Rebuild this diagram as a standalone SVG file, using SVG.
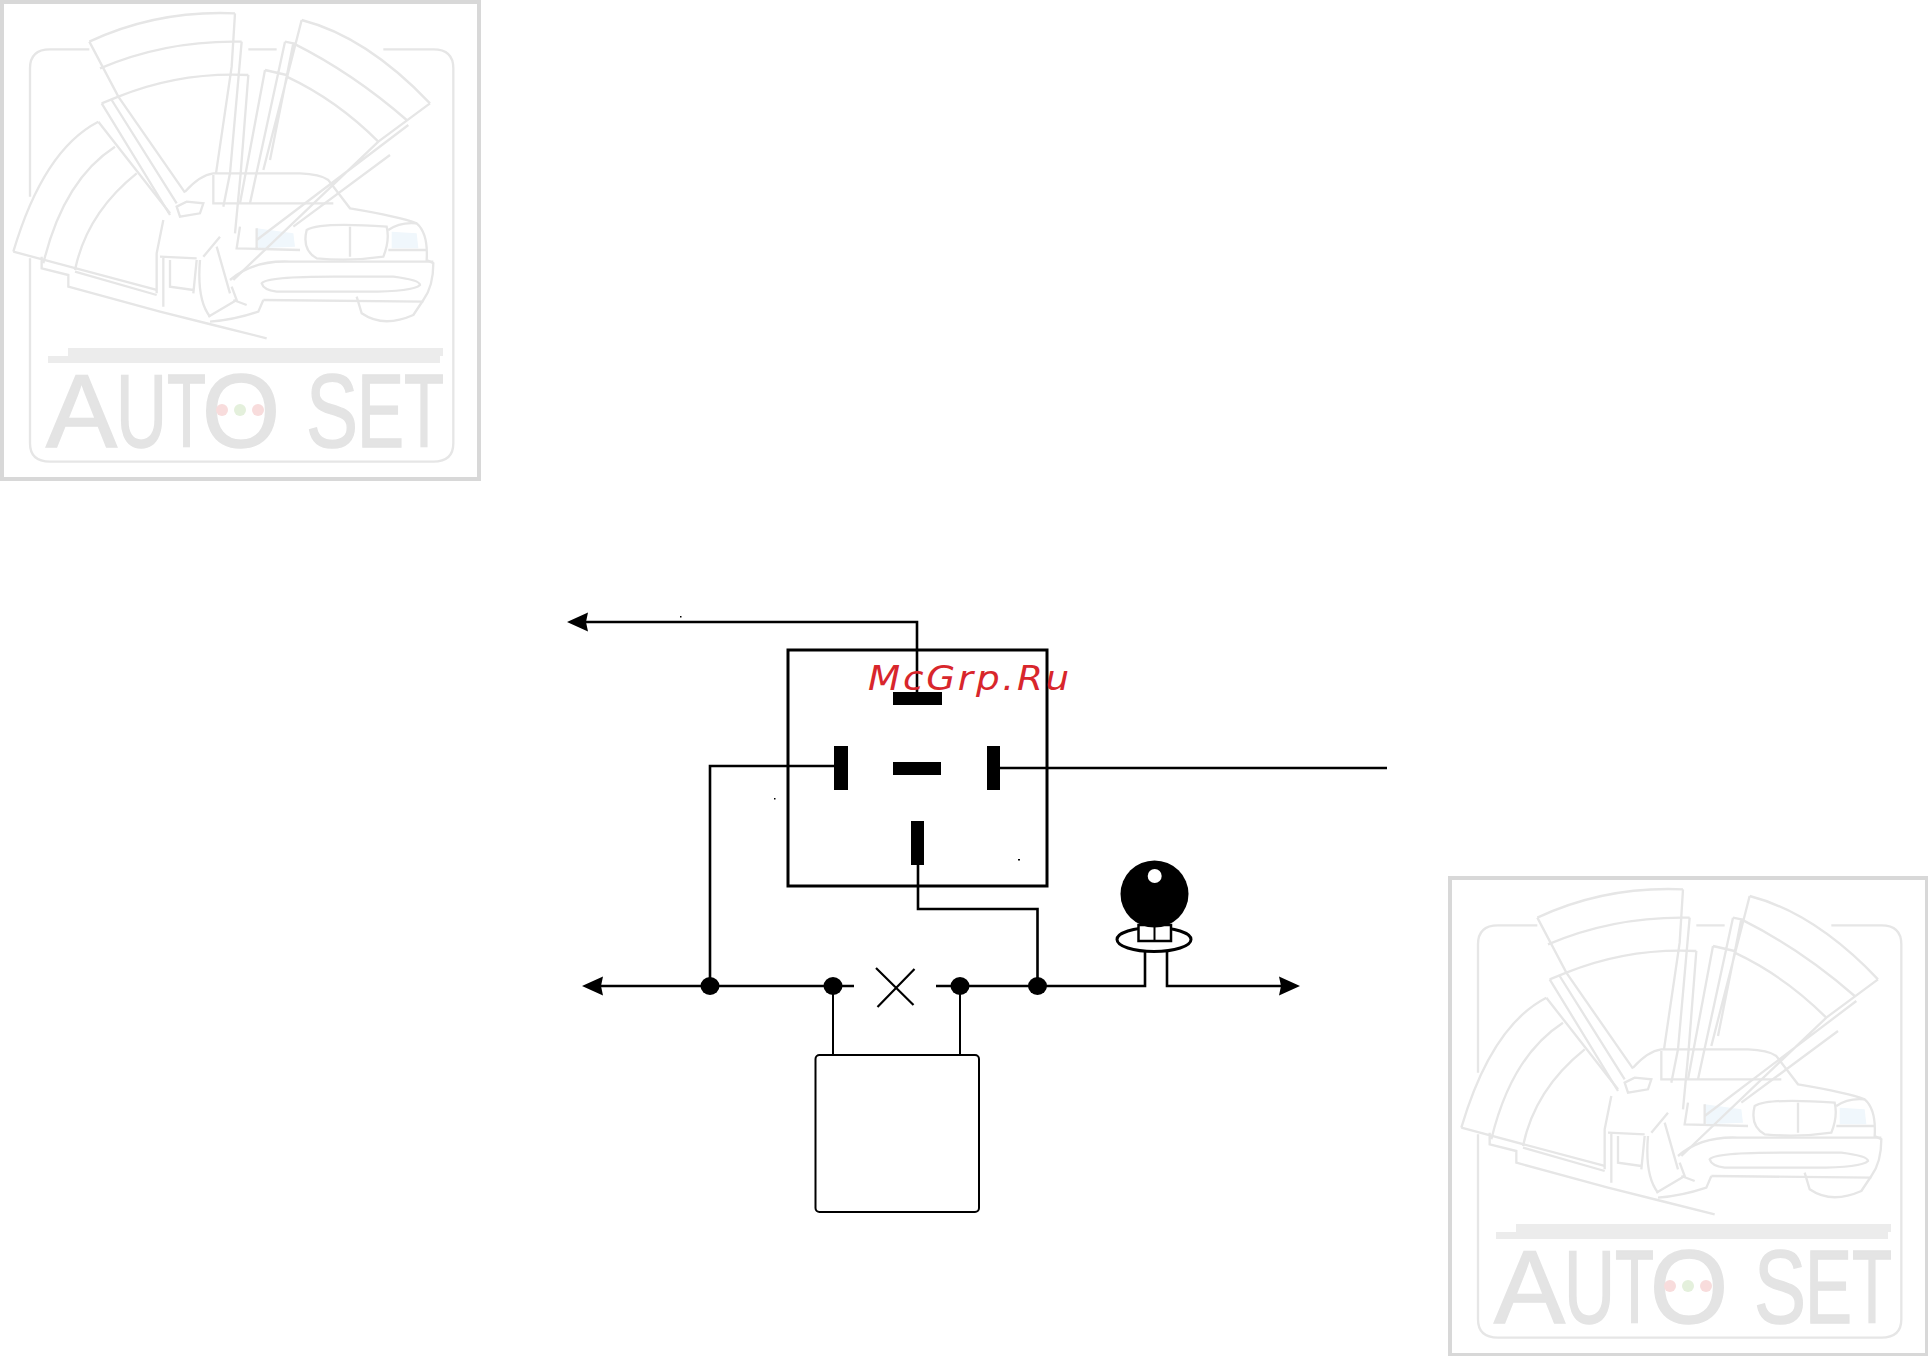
<svg xmlns="http://www.w3.org/2000/svg" width="1928" height="1356" viewBox="0 0 1928 1356">
<style>
.w{fill:none;stroke:#000;stroke-width:2.600}
.t{fill:#000}
.d{fill:#000}
.l{fill:none;stroke:#e6e6e6;stroke-width:7}
.bar{fill:#ececec}
.lt{font-family:"Liberation Sans",Arial,sans-serif;font-size:103px;fill:#e4e4e4;stroke:#e4e4e4;stroke-width:1.500}
.mc{font-family:"DejaVu Sans",sans-serif;font-style:oblique;font-size:34px;letter-spacing:2.500px;fill:#d8262c}
</style>
<defs>
<marker id="arrow" markerUnits="userSpaceOnUse" markerWidth="24" markerHeight="22" refX="11" refY="10" orient="auto">
<path d="M0 0.5 L21 10 L0 19.5 L2 10 Z" fill="#000"/>
</marker>
<filter id="soft" x="-5%" y="-5%" width="110%" height="110%"><feGaussianBlur stdDeviation="0.600"/></filter>
<g id="logo">
<rect x="2" y="2" width="477" height="477" fill="none" stroke="#d8d8d8" stroke-width="4"/>
<g filter="url(#soft)">
<g transform="scale(0.33333)">
<path d="M770 685L880 700L885 740L775 745Z" fill="#f0f7fc"/>
<path d="M1175 695L1250 700L1255 745L1175 745Z" fill="#f0f7fc"/>
<path class="l" d="M268 148H150Q90 148 90 205V590M90 775V1330Q90 1385 150 1385H1300Q1360 1385 1360 1330V205Q1360 148 1300 148H1150M745 148H830"/>
<path class="l" d="M268 125Q470 30 705 40M300 205Q500 120 725 125M355 290Q540 215 745 225"/>
<path class="l" d="M268 125L355 290L555 578M305 310L355 290M305 310L510 645M335 300L530 610"/>
<path class="l" d="M705 40L695 200L648 520M725 125L690 520L670 620M745 225L722 520L705 700"/>
<path class="l" d="M905 60Q1100 110 1290 310M880 130Q1060 220 1220 360M860 230Q1010 300 1135 425"/>
<path class="l" d="M1290 310L1135 425L700 840M1225 375L770 720M1170 465L880 680"/>
<path class="l" d="M905 60L790 510M855 125L880 130L810 480M855 125L750 610M795 210L860 225M795 210L720 610"/>
<path class="l" d="M295 365Q130 450 40 755M345 440Q190 540 130 790M410 520Q260 640 225 810"/>
<path class="l" d="M295 365L510 640M40 755L470 870M125 770V805L205 825V860L480 935L640 975L800 1015M225 815L470 885"/>
<path class="l" d="M555 575Q600 525 640 520H900Q960 522 985 540L1050 625Q1200 650 1250 670Q1285 700 1280 780L1300 790Q1300 860 1270 900L1240 945Q1150 985 1085 940L1070 890"/>
<path class="l" d="M640 525V610H1000M530 620L560 605L610 610L600 640L540 650Z"/>
<path class="l" d="M690 840Q760 780 870 785H1300M490 660L470 760V880M490 770V920M480 770L590 775M510 780V860L580 870M590 780L580 880M610 770L660 710M600 780Q590 900 630 950M650 740L690 880"/>
<path class="l" d="M720 680L710 745L900 750M770 685V745"/>
<path class="l" d="M920 690Q960 665 1160 680Q1170 720 1150 770Q1050 785 950 775Q905 750 920 690ZM1050 680V770M1165 690Q1200 665 1250 670M1165 750H1280"/>
<path class="l" d="M785 850Q800 830 1000 830H1180Q1260 840 1260 855Q1240 875 1100 875H830Q790 870 785 850ZM790 900L1270 905"/>
<path class="l" d="M695 860L710 900L625 950M700 900L740 915M790 900L775 935Q700 960 630 965"/>
</g>
<rect class="bar" x="68" y="348" width="375" height="8"/>
<rect class="bar" x="48" y="356" width="392" height="7"/>
<text class="lt" y="447"><tspan x="46" textLength="71" lengthAdjust="spacingAndGlyphs">A</tspan><tspan x="116" textLength="51" lengthAdjust="spacingAndGlyphs">U</tspan><tspan x="167" textLength="39" lengthAdjust="spacingAndGlyphs">T</tspan><tspan x="202" textLength="78" lengthAdjust="spacingAndGlyphs">O</tspan><tspan x="306" textLength="52" lengthAdjust="spacingAndGlyphs">S</tspan><tspan x="357" textLength="47" lengthAdjust="spacingAndGlyphs">E</tspan><tspan x="404" textLength="40" lengthAdjust="spacingAndGlyphs">T</tspan></text>
<circle cx="222" cy="410" r="6" fill="#f8dcdc"/>
<circle cx="240" cy="410" r="6" fill="#e4f0dc"/>
<circle cx="258" cy="410" r="6" fill="#f8dcdc"/>
</g>
</g>
</defs>
<rect width="1928" height="1356" fill="#fff"/>
<g id="watermark-top-left"><use href="#logo"/></g>
<g id="watermark-bottom-right"><use href="#logo" x="1448" y="876"/></g>
<g id="connectors">
<path class="w" d="M917 692V622H577" marker-end="url(#arrow)"/>
<path class="w" d="M834 766H710V986"/>
<path class="w" d="M1000 768H1387"/>
<path class="w" d="M918 865V909H1037.500V986"/>
<path class="w" d="M854 986H592" marker-end="url(#arrow)"/>
<path class="w" d="M936 986H1145V952"/>
<path class="w" d="M1167 952V986H1290" marker-end="url(#arrow)"/>
<path class="w" style="stroke-width:2" d="M833 986V1055M960 986V1055"/>
</g>
<g id="relay">
<rect x="788" y="650" width="259" height="236" fill="none" stroke="#000" stroke-width="3"/>
<rect class="t" x="893" y="692" width="49" height="13"/>
<rect class="t" x="893" y="762" width="48" height="13"/>
<rect class="t" x="834" y="746" width="14" height="44"/>
<rect class="t" x="987" y="746" width="13" height="44"/>
<rect class="t" x="911" y="821" width="13" height="44"/>
</g>
<g id="bulb">
<ellipse cx="1154" cy="939.500" rx="37" ry="12" fill="#fff" stroke="#000" stroke-width="3"/>
<rect x="1138.500" y="925" width="32.500" height="16" fill="#fff" stroke="#000" stroke-width="2.500"/>
<path d="M1154.500 925V941" stroke="#000" stroke-width="2"/>
<ellipse cx="1154.500" cy="894" rx="34" ry="33.500" fill="#000"/>
<circle cx="1154.700" cy="876" r="7" fill="#fff"/>
</g>
<g id="junctions">
<ellipse class="d" cx="710" cy="986" rx="9.500" ry="9"/>
<ellipse class="d" cx="833" cy="986" rx="9.500" ry="9"/>
<ellipse class="d" cx="960" cy="986" rx="9.500" ry="9"/>
<ellipse class="d" cx="1037.500" cy="986" rx="9.500" ry="9"/>
</g>
<g id="fuse">
<path d="M876 968L913.500 1005M914.500 969L877.500 1007" fill="none" stroke="#000" stroke-width="2.200"/>
</g>
<g id="module">
<rect x="815.500" y="1055" width="163.500" height="157" rx="4" fill="#fff" stroke="#000" stroke-width="2"/>
</g>
<g id="specks">
<rect x="680" y="616" width="1.500" height="1.500"/>
<rect x="774" y="798" width="1.500" height="1.500"/>
<rect x="1018" y="859" width="2" height="1.500"/>
</g>
<g id="site-mark">
<text class="mc" x="868" y="690" textLength="204" lengthAdjust="spacingAndGlyphs">McGrp.Ru</text>
</g>
</svg>
